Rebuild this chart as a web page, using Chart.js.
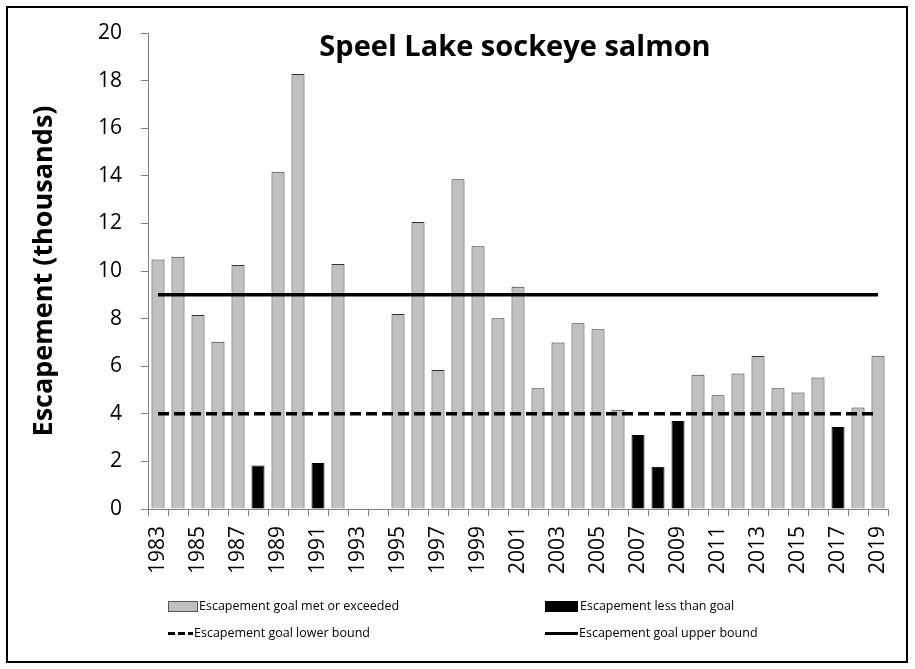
<!DOCTYPE html>
<html>
<head>
<meta charset="utf-8">
<script src="https://cdn.jsdelivr.net/npm/chart.js@4"></script>
<style>
  body { margin: 0; background: #fff; font-family: 'Open Sans', sans-serif; }
  #frame { position: absolute; left: 6px; top: 6px; width: 902px; height: 657px; box-sizing: border-box; border: 2px solid #000; }
  #chart { position: absolute; left: 0; top: 0; }
  .leg { position: absolute; font-size: 12.5px; color: #000; white-space: nowrap; line-height: 16px; }
  .sw { position: absolute; }
</style>
</head>
<body>
<div id="frame"></div>
<canvas id="chart" width="915" height="669"></canvas>

<!-- legend -->
<div class="sw" style="left:168px;top:601px;width:28px;height:9px;background:#c0c0c0;border:1px solid #555;"></div>
<div class="leg" style="left:199px;top:598px;">Escapement goal met or exceeded</div>
<div class="sw" style="left:545px;top:601px;width:33px;height:11px;background:#000;"></div>
<div class="leg" style="left:580px;top:598px;">Escapement less than goal</div>
<div class="sw" style="left:168px;top:632px;width:25px;height:3px;background:repeating-linear-gradient(to right,#000 0 7px,transparent 7px 10px);"></div>
<div class="leg" style="left:194px;top:625px;">Escapement goal lower bound</div>
<div class="sw" style="left:545px;top:632px;width:33px;height:3px;background:#000;"></div>
<div class="leg" style="left:579px;top:625px;">Escapement goal upper bound</div>

<script>
// Speel Lake sockeye salmon escapement, thousands of fish

const years = ['1983', '1984', '1985', '1986', '1987', '1988', '1989', '1990', '1991', '1992',
    '1993', '1994', '1995', '1996', '1997', '1998', '1999', '2000', '2001', '2002',
    '2003', '2004', '2005', '2006', '2007', '2008', '2009', '2010', '2011', '2012',
    '2013', '2014', '2015', '2016', '2017', '2018', '2019'];

// years where the goal was met or exceeded
const goalMet = [10.48, 10.6, 8.15, 7.03, 10.25, null, 14.17, 18.28, null, 10.29,
    null, null, 8.19, 12.06, 5.84, 13.85, 11.04, 8.01, 9.34, 5.07,
    7.0, 7.8, 7.55, 4.17, null, null, null, 5.64, 4.78, 5.69,
    6.43, 5.07, 4.89, 5.53, null, 4.26, 6.44];

// years below the lower bound
const belowGoal = [null, null, null, null, null, 1.83, null, null, 1.93, null,
    null, null, null, null, null, null, null, null, null, null,
    null, null, null, null, 3.11, 1.78, 3.7, null, null, null,
    null, null, null, null, 3.45, null, null];

const lowerBound = 4;
const upperBound = 9;

const yTicks = { min: 0, max: 20, step: 2 };

const fontFamily = "'Open Sans', sans-serif";

// title sits inside the plot area, so draw it after the chart
const insideTitle = {
    id: 'insideTitle',
    afterDraw(chart) {
        const ctx = chart.ctx;
        const area = chart.chartArea;
        ctx.save();
        ctx.font = `bold 29px ${fontFamily}`;
        ctx.fillStyle = '#000';
        ctx.textAlign = 'center';
        ctx.textBaseline = 'alphabetic';
        ctx.fillText('Speel Lake sockeye salmon', (area.left + area.right) / 2 - 3, 56);
        ctx.restore();
    }
};

const first = years[0];
const last = years[years.length - 1];

new Chart(document.getElementById('chart'), {
    type: 'bar',
    data: {
        labels: years,
        datasets: [
            {
                type: 'line',
                label: 'Escapement goal upper bound',
                data: [{ x: first, y: upperBound }, { x: last, y: upperBound }],
                borderColor: '#000',
                borderWidth: 3.5,
                pointRadius: 0,
                fill: false,
                order: 0
            },
            {
                type: 'line',
                label: 'Escapement goal lower bound',
                data: [{ x: first, y: lowerBound }, { x: last, y: lowerBound }],
                borderColor: '#000',
                borderWidth: 3.5,
                borderDash: [11, 5],
                pointRadius: 0,
                fill: false,
                order: 0
            },
            {
                label: 'Escapement goal met or exceeded',
                data: goalMet,
                backgroundColor: '#c0c0c0',
                borderColor: '#333',
                borderWidth: 1,
                grouped: false,
                barPercentage: 0.65,
                categoryPercentage: 1,
                order: 1
            },
            {
                label: 'Escapement less than goal',
                data: belowGoal,
                backgroundColor: '#000',
                borderColor: '#000',
                borderWidth: 1,
                grouped: false,
                barPercentage: 0.65,
                categoryPercentage: 1,
                order: 1
            }
        ]
    },
    options: {
        responsive: false,
        animation: false,
        layout: {
            padding: { top: 33, right: 27, left: 0, bottom: 0 }
        },
        plugins: {
            legend: { display: false },
            title: { display: false },
            tooltip: { enabled: false }
        },
        scales: {
            x: {
                afterFit: (scale) => { scale.height = 160; },
                grid: {
                    offset: true,
                    drawOnChartArea: false,
                    drawTicks: true,
                    tickLength: 7,
                    color: '#808080'
                },
                border: { display: true, color: '#808080', width: 1 },
                ticks: {
                    autoSkip: false,
                    minRotation: 90,
                    maxRotation: 90,
                    padding: 10,
                    color: '#000',
                    font: { family: fontFamily, size: 21 },
                    callback: function (value, index) {
                        return index % 2 === 0 ? this.getLabelForValue(value) : '';
                    }
                }
            },
            y: {
                min: yTicks.min,
                max: yTicks.max,
                afterFit: (scale) => { scale.width = 148; },
                grid: {
                    drawOnChartArea: false,
                    drawTicks: true,
                    tickLength: 7,
                    color: '#808080'
                },
                border: { display: true, color: '#808080', width: 1 },
                ticks: {
                    stepSize: yTicks.step,
                    padding: 19,
                    color: '#000',
                    font: { family: fontFamily, size: 21 }
                },
                title: {
                    display: true,
                    text: 'Escapement (thousands)',
                    color: '#000',
                    font: { family: fontFamily, size: 27, weight: 'bold' },
                    padding: { top: 28, bottom: 0 }
                }
            }
        }
    },
    plugins: [insideTitle]
});
</script>
</body>
</html>
